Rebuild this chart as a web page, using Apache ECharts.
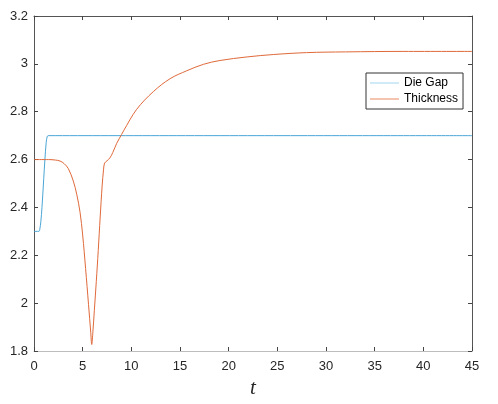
<!DOCTYPE html>
<html>
<head>
<meta charset="utf-8">
<script src="https://cdn.jsdelivr.net/npm/echarts@6/dist/echarts.min.js"></script>
<style>
html,body{margin:0;padding:0;background:#fff;}
#c{width:498px;height:404px;}
</style>
</head>
<body>
<div id="c"></div>
<script>
// Data
var xTicks = [0, 5, 10, 15, 20, 25, 30, 35, 40, 45];
var yTicks = [1.8, 2, 2.2, 2.4, 2.6, 2.8, 3, 3.2];

var dieGapT = [0, 0.5, 0.6, 0.7, 0.82, 1.0, 1.12, 1.25, 1.35, 1.45, 45];
var dieGapV = [2.3, 2.3, 2.31, 2.34, 2.4, 2.52, 2.6, 2.67, 2.695, 2.7, 2.7];

var thickT = [0, 1.5, 2.2, 2.67, 3.1, 3.53, 4.04, 4.39, 4.73, 5.0, 5.3, 5.6, 5.83, 5.93,
              6.05, 6.2, 6.4, 6.6, 6.8, 7.0, 7.15, 7.25, 7.5, 7.8, 8.1, 8.5, 9.0, 9.2,
              10.55, 12.26, 13.98, 15.69, 17.4, 19.1, 21.9, 24.6, 28, 32, 38, 45];
var thickV = [2.6, 2.6, 2.598, 2.594, 2.583, 2.562, 2.51, 2.455, 2.38, 2.285, 2.145, 1.995, 1.878, 1.827,
              1.88, 1.97, 2.09, 2.22, 2.36, 2.49, 2.56, 2.585, 2.595, 2.607, 2.63, 2.668, 2.705, 2.72,
              2.81, 2.884, 2.938, 2.971, 2.998, 3.014, 3.029, 3.039, 3.047, 3.05, 3.052, 3.052];

function zip(a, b) { return a.map(function (v, i) { return [v, b[i]]; }); }

var chart = echarts.init(document.getElementById('c'), null, {renderer: 'canvas'});
var labelColor = '#262626';
var tickStyle = {show: true, inside: true, length: 4, lineStyle: {color: '#444', width: 1}};
var opt = {
  animation: false,
  backgroundColor: '#fff',
  grid: {left: 34, right: 26, top: 16, bottom: 43, containLabel: false},
  xAxis: [{
    type: 'value', min: 0, max: 45, interval: 5, position: 'bottom',
    name: 't', nameLocation: 'middle', nameGap: 27,
    nameTextStyle: {fontFamily: 'Liberation Serif', fontStyle: 'italic', fontSize: 21, color: labelColor},
    axisLine: {show: true, onZero: false, lineStyle: {color: '#bdbdbd', width: 1}},
    axisTick: tickStyle,
    axisLabel: {margin: 9, fontFamily: 'Liberation Sans', fontSize: 13, color: labelColor,
      formatter: function (v) { return xTicks.indexOf(v) >= 0 ? String(v) : ''; }},
    splitLine: {show: false}
  }, {
    type: 'value', min: 0, max: 45, interval: 5, position: 'top',
    axisLine: {show: true, onZero: false, lineStyle: {color: '#555', width: 1}},
    axisTick: tickStyle, axisLabel: {show: false}, splitLine: {show: false}
  }],
  yAxis: [{
    type: 'value', min: 1.8, max: 3.2, interval: 0.2, position: 'left',
    axisLine: {show: true, onZero: false, lineStyle: {color: '#555', width: 1}},
    axisTick: tickStyle,
    axisLabel: {margin: 6, fontFamily: 'Liberation Sans', fontSize: 13, color: labelColor,
      formatter: function (v) {
        var r = Math.round(v * 10) / 10;
        return yTicks.indexOf(r) >= 0 ? String(r) : '';
      }},
    splitLine: {show: false}
  }, {
    type: 'value', min: 1.8, max: 3.2, interval: 0.2, position: 'right',
    axisLine: {show: true, onZero: false, lineStyle: {color: '#555', width: 1}},
    axisTick: tickStyle, axisLabel: {show: false}, splitLine: {show: false}
  }],
  legend: {
    orient: 'vertical', left: 366, top: 73,
    padding: [3, 5, 3, 4], itemGap: 2, itemWidth: 29, itemHeight: 14,
    backgroundColor: '#fff', borderColor: '#333', borderWidth: 1, borderRadius: 0,
    textStyle: {fontFamily: 'Liberation Sans', fontSize: 12, color: '#000', lineHeight: 14},
    data: [
      {name: 'Die Gap', icon: 'path://M0,0 L30,0 L30,1 L0,1 Z', itemStyle: {color: '#9dd4ee'}},
      {name: 'Thickness', icon: 'path://M0,0 L30,0 L30,1 L0,1 Z', itemStyle: {color: '#e8855e'}}
    ]
  },
  series: [{
    name: 'Die Gap', type: 'line', xAxisIndex: 0, yAxisIndex: 0,
    data: zip(dieGapT, dieGapV), symbol: 'none', smooth: 0.35,
    lineStyle: {color: '#4aa6d6', width: 1}, itemStyle: {color: '#4aa6d6'}
  }, {
    name: 'Thickness', type: 'line', xAxisIndex: 0, yAxisIndex: 0,
    data: zip(thickT, thickV), symbol: 'none', smooth: 0.35,
    lineStyle: {color: '#e0693a', width: 1}, itemStyle: {color: '#e0693a'}
  }]
};
chart.setOption(opt);
</script>
</body>
</html>
